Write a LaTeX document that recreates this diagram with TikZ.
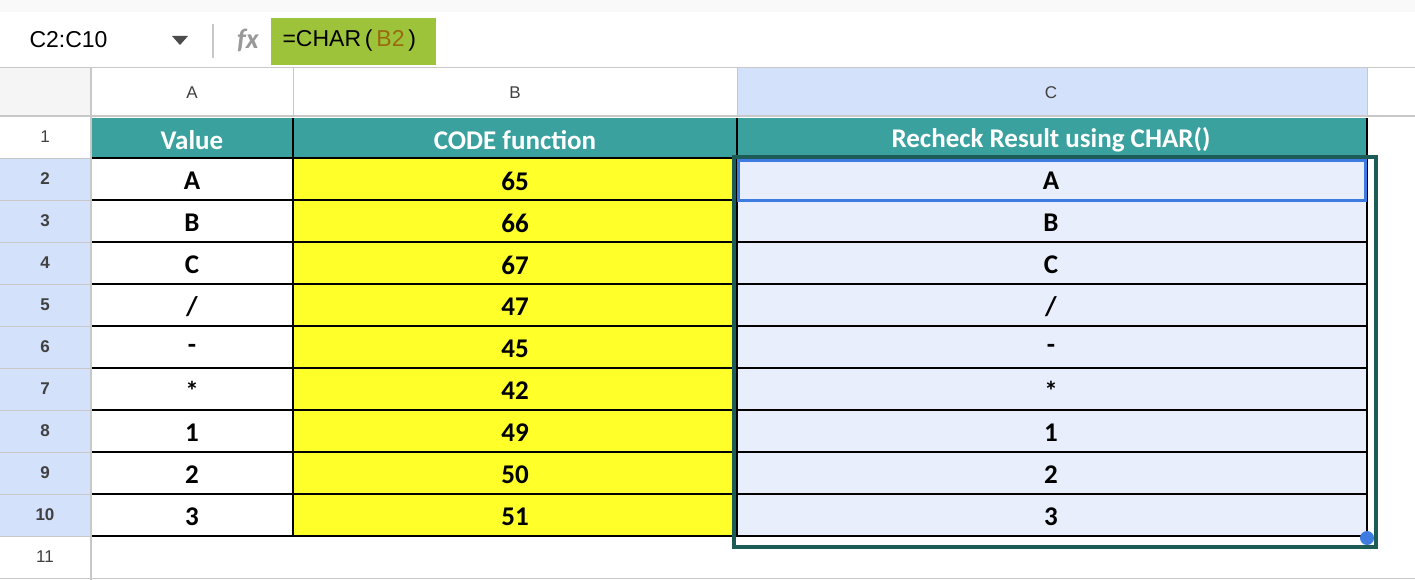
\documentclass[tikz,border=0pt]{standalone}
\usepackage{fontspec}
\setmainfont{Carlito}
\newfontfamily\uifont{Liberation Sans}
\definecolor{teal}{HTML}{3AA19E}
\definecolor{selblue}{HTML}{E8EEFC}
\definecolor{hdrblue}{HTML}{D3E2FA}
\definecolor{gridgray}{HTML}{C8C8C8}
\definecolor{fxgreen}{HTML}{9DC33A}
\definecolor{refbrown}{HTML}{9A6A10}
\definecolor{frame}{HTML}{1D5B57}
\definecolor{blueline}{HTML}{3D7BE0}
\definecolor{cellyellow}{HTML}{FFFF2A}
\tikzset{
  cell/.style={font=\bfseries\fontsize{27}{27}\selectfont},
  hdr/.style={font=\uifont\fontsize{17}{17}\selectfont, text=black!75},
  rowno/.style={font=\uifont\fontsize{17}{17}\selectfont, text=black!75}
}
\begin{document}
\begin{tikzpicture}[x=1pt,y=-1pt]
\useasboundingbox (0,0) rectangle (1415,580);
\fill[white] (0,0) rectangle (1415,580);
% formula bar
\fill[gray!5] (0,0) rectangle (1415,12);
\node[font=\uifont\fontsize{23}{23}\selectfont, anchor=west] (namebox) at (26,40) {C2:C10};
\fill[black!70] (172,36) -- (188,36) -- (180,45) -- cycle;
\draw[gridgray, line width=1.5pt] (213,24) -- (213,58);
\node[font=\itshape\bfseries\fontsize{28}{28}\selectfont, text=black!40] (fx) at (248,40) {fx};
\fill[fxgreen] (271,18) rectangle (436,65);
\node[font=\uifont\fontsize{23}{23}\selectfont, anchor=west] (formula) at (279,41) {=CHAR\,(\,\textcolor{refbrown}{B2}\,)};
% column headers
\fill[gray!8] (0,68) rectangle (90,116);
\fill[hdrblue] (737,68) rectangle (1367,116);
\fill[hdrblue] (0,158) rectangle (90,536);
\draw[gridgray, line width=1pt] (0,68) -- (1415,68);
\draw[gridgray, line width=2pt] (0,116) -- (1415,116);
\draw[gridgray, line width=2pt] (91,68) -- (91,580);
\foreach \x in {293,737,1367} \draw[gridgray] (\x,68) -- (\x,116);
\node[hdr] (hA) at (192,93) {A};
\node[hdr] (hB) at (515,93) {B};
\node[hdr] (hC) at (1051,93) {C};
% header row
\fill[teal] (92,118) rectangle (1367,158);
\node[cell, text=white] (t1) at (192,140) {Value};
\node[cell, text=white] (t2) at (515,140) {CODE function};
\node[cell, text=white] (t3) at (1051,140) {Recheck Result using CHAR()};
% data
\fill[cellyellow] (293,158) rectangle (737,536);
\fill[selblue] (737,158) rectangle (1367,536);
\foreach \v/\c [count=\i from 2] in {A/65,B/66,C/67,{/}/47,-/45,*/42,1/49,2/50,3/51} {
  \pgfmathsetmacro{\y}{158+(\i-2)*42+23}
  \node[cell] (a\i) at (192,\y) {\v};
  \node[cell] (b\i) at (515,\y) {\c};
  \node[cell] (c\i) at (1051,\y) {\v};
}
\foreach \i in {1,...,11} {
  \pgfmathsetmacro{\y}{116+(\i-1)*42+21}
  \node[rowno, font=\uifont\fontsize{17}{17}\selectfont\ifnum\i>1 \ifnum\i<11 \bfseries\fi\fi] (r\i) at (45,\y) {\i};
  \draw[gridgray] (0,\y+21) -- (91,\y+21);
}
\draw[gridgray] (91,578) -- (1415,578);
% grid lines
\foreach \y in {158,200,...,536} \draw[black, line width=1.5pt] (92,\y) -- (1367,\y);
\foreach \x in {293,737,1367} \draw[black, line width=1.5pt] (\x,118) -- (\x,536);
% selection
\draw[frame, line width=3.5pt] (734,157) rectangle (1376,547);
\draw[blueline, line width=3pt] (738,161) rectangle (1365,200);
\fill[blueline] (1367,538) circle (7);
\end{tikzpicture}
\end{document}
